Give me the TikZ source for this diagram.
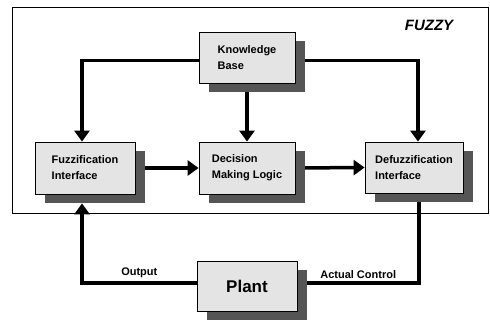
\documentclass[tikz,border=0pt]{standalone}
\usepackage{fontspec}
\setmainfont{Liberation Sans}
\usepackage{xcolor}
\usepackage{tikz}
\usetikzlibrary{arrows.meta, backgrounds, positioning}
\definecolor{shadowgray}{RGB}{85,85,85}
\definecolor{boxgray}{RGB}{228,228,228}

\begin{document}
\begin{tikzpicture}[x=1pt, y=-1pt, >={Triangle[length=11pt, width=15pt]},
    block/.style={draw, thick, fill=boxgray, align=left,
        font=\bfseries\fontsize{11}{16}\selectfont, inner sep=2pt},
    shadowbox/.style={fill=shadowgray, draw=none, inner sep=0pt},
    flow/.style={line width=3.5pt},
    lbl/.style={font=\bfseries\fontsize{11}{13}\selectfont, inner sep=3pt}]
    \useasboundingbox (0,0) rectangle (490,323);

    % 1. Bóng của các khối
    \node[shadowbox, minimum width=96pt, minimum height=51pt] (kbs) at (257,66.5) {};
    \node[shadowbox, minimum width=100pt, minimum height=52pt] (fuzzs) at (95,177) {};
    \node[shadowbox, minimum width=96pt, minimum height=52pt] (decs) at (257,177) {};
    \node[shadowbox, minimum width=98pt, minimum height=51pt] (defuzzs) at (424,176.5) {};
    \node[shadowbox, minimum width=100pt, minimum height=50pt] (plants) at (257,295) {};

    % 2. Các khối
    \node[block, minimum width=96pt, minimum height=51pt] (kb) at (247,57.5) {Knowledge\\Base};
    \node[block, minimum width=100pt, minimum height=52pt] (fuzz) at (85,168) {Fuzzification\\Interface};
    \node[block, minimum width=96pt, minimum height=52pt] (dec) at (247,168) {Decision\\Making Logic};
    \node[block, minimum width=98pt, minimum height=51pt] (defuzz) at (414,167.5) {Defuzzification\\Interface};
    \node[block, minimum width=100pt, minimum height=50pt,
        font=\bfseries\fontsize{17}{20}\selectfont] (plant) at (247,286) {Plant};

    % 3. Tiêu đề
    \node[font=\bfseries\itshape\fontsize{15}{18}\selectfont] (title) at (429,25) {FUZZY};

    % 4. Khung và các mũi tên (nằm phía sau)
    \begin{scope}[on background layer]
        \draw[thick] (12,7) rectangle (488,213);
        \draw[flow, ->] ([yshift=-3pt]kb.west) -| ([xshift=-3pt]fuzz.north);
        \draw[flow, ->] ([yshift=-3pt]kb.east) -| ([xshift=4pt]defuzz.north);
        \draw[flow, ->] (kb.south) -- (dec.north);
        \draw[flow, ->] (fuzz.east) -- (dec.west);
        \draw[flow, ->] (dec.east) -- (defuzz.west);
        \draw[flow] ([xshift=5pt]defuzz.south) |- ([yshift=3pt]plant.east)
            node[lbl, pos=0.75, above] {Actual Control};
        \draw[flow, ->] ([yshift=3pt]plant.west) -| ([xshift=-3pt, yshift=-9pt]fuzz.south)
            node[lbl, pos=0.25, above] {Output};
    \end{scope}
\end{tikzpicture}
\end{document}
